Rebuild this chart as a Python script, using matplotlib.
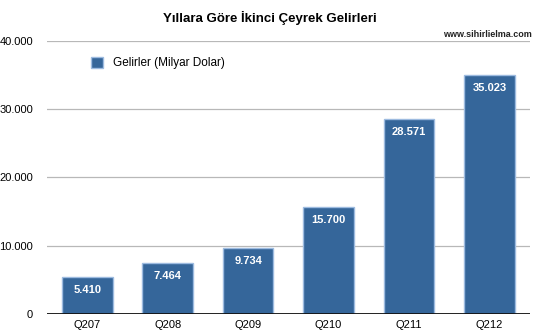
import matplotlib
matplotlib.use("Agg")
import matplotlib.pyplot as plt

quarters = ["Q207", "Q208", "Q209", "Q210", "Q211", "Q212"]
revenues = [5410, 7464, 9734, 15700, 28571, 35023]
value_labels = ["5.410", "7.464", "9.734", "15.700", "28.571", "35.023"]
yticks = [0, 10000, 20000, 30000, 40000]
ytick_labels = ["0", "10.000", "20.000", "30.000", "40.000"]

plt.rcParams["font.family"] = ["Liberation Sans", "DejaVu Sans"]

fig = plt.figure(figsize=(5.4, 3.33), dpi=100)
ax = fig.add_axes([0.087, 0.057, 0.894, 0.820])

bar_color = "#35669a"
x = range(len(quarters))
bars = ax.bar(x, revenues, width=0.63, color=bar_color,
              edgecolor="#9dbbe0", linewidth=1.0, zorder=3,
              label="Gelirler (Milyar Dolar)")

for bar, txt in zip(bars, value_labels):
    ax.annotate(txt, (bar.get_x() + bar.get_width() / 2, bar.get_height()),
                xytext=(0, -9.5), textcoords="offset points",
                ha="center", va="center", color="white",
                fontsize=8, fontweight="bold", zorder=4)

ax.set_xlim(-0.5, len(quarters) - 0.5)
ax.set_ylim(0, 40000)
ax.set_yticks(yticks)
ax.set_yticklabels(ytick_labels, fontsize=8)
ax.set_xticks(list(x))
ax.set_xticklabels(quarters, fontsize=8)
ax.tick_params(axis="x", length=0, pad=4)
ax.tick_params(axis="y", length=0, pad=10)

ax.grid(axis="y", color="#b8b8b8", linewidth=0.9, zorder=0)
ax.axhline(0, color="#111111", linewidth=1.3, zorder=5)
for s in ax.spines.values():
    s.set_visible(False)

leg = ax.legend(loc="upper left", bbox_to_anchor=(0.07, 0.98), frameon=False,
                fontsize=8.5, handlelength=1.0, handleheight=1.0,
                handletextpad=0.8)

fig.text(0.5, 0.945, "Yıllara Göre İkinci Çeyrek Gelirleri",
         ha="center", va="center", fontsize=9.5, fontweight="bold")
fig.text(0.985, 0.895, "www.sihirlielma.com", ha="right", va="center",
         fontsize=6.5, fontweight="bold", color="#222222")

fig.savefig("out.png", dpi=100)
